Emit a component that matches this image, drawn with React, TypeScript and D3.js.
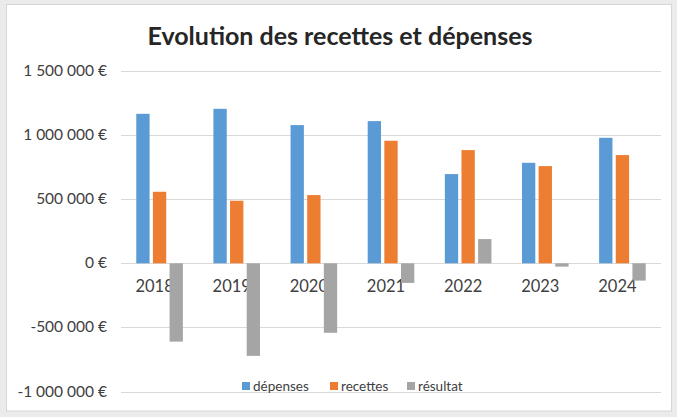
import * as d3 from "d3";
import React, { useEffect, useRef } from "react";

const years = ["2018", "2019", "2020", "2021", "2022", "2023", "2024"];
const depenses = [1166000, 1205000, 1078000, 1109000, 696000, 784000, 979000];
const recettes = [558000, 488000, 532000, 956000, 883000, 758000, 844000];
const resultat = [-611000, -722000, -542000, -153000, 189000, -26000, -135000];
const yTicks = [-1000000, -500000, 0, 500000, 1000000, 1500000];

const seriesNames = ["dépenses", "recettes", "résultat"];
const colors = ["#5b9bd5", "#ed7d31", "#a5a5a5"];

const fmt = (v: number) => {
  const s = Math.abs(v).toString().replace(/\B(?=(\d{3})+(?!\d))/g, " ");
  return (v < 0 ? "-" : "") + s + " €";
};

const App: React.FC = () => {
  const svgRef = useRef<SVGSVGElement | null>(null);

  useEffect(() => {
    const svg = d3.select(svgRef.current);
    svg.selectAll("*").remove();
    const width = 677;
    const height = 417;
    const font = "Lato, 'Liberation Sans', sans-serif";
    const series = [depenses, recettes, resultat];

    // fond
    svg.append("rect").attr("width", width).attr("height", height).attr("fill", "#ebebeb");
    svg
      .append("rect")
      .attr("x", 6.5)
      .attr("y", 4.5)
      .attr("width", 665)
      .attr("height", 406.5)
      .attr("fill", "#fff")
      .attr("stroke", "#d6d6d6");

    const x = d3.scaleBand().domain(years).range([121, 661]).padding(0);
    const xs = d3.scaleBand().domain(seriesNames).range([-23.3, 23.3]).paddingInner(0.2);
    const y = d3.scaleLinear().domain([-1000000, 1500000]).range([391.5, 71]);

    // titre
    svg
      .append("text")
      .attr("x", 340)
      .attr("y", 45)
      .attr("text-anchor", "middle")
      .attr("font-family", font)
      .attr("font-weight", "bold")
      .attr("font-size", 25)
      .attr("fill", "#262626")
      .text("Evolution des recettes et dépenses");

    // grille
    svg
      .append("g")
      .selectAll("line")
      .data(yTicks)
      .join("line")
      .attr("x1", 121)
      .attr("x2", 661)
      .attr("y1", (d) => Math.round(y(d)) + 0.5)
      .attr("y2", (d) => Math.round(y(d)) + 0.5)
      .attr("stroke", "#d9d9d9")
      .attr("stroke-width", 1.2);

    svg
      .append("g")
      .selectAll("text")
      .data(yTicks)
      .join("text")
      .attr("x", 107)
      .attr("y", (d) => y(d) + 5)
      .attr("text-anchor", "end")
      .attr("font-family", font)
      .attr("font-size", 15.5)
      .attr("fill", "#404040")
      .text((d) => fmt(d));

    // années
    svg
      .append("g")
      .selectAll("text")
      .data(years)
      .join("text")
      .attr("x", (d) => (x(d) as number) + x.bandwidth() / 2 - 5)
      .attr("y", 292)
      .attr("text-anchor", "middle")
      .attr("font-family", font)
      .attr("font-size", 16.5)
      .attr("fill", "#404040")
      .text((d) => d);

    // barres
    series.forEach((vals, si) => {
      svg
        .append("g")
        .selectAll("rect")
        .data(vals)
        .join("rect")
        .attr("x", (_, i) => (x(years[i]) as number) + x.bandwidth() / 2 + (xs(seriesNames[si]) as number))
        .attr("width", xs.bandwidth())
        .attr("y", (d) => y(Math.max(0, d)))
        .attr("height", (d) => Math.abs(y(d) - y(0)))
        .attr("fill", colors[si]);
    });

    // légende
    const legendX = [242, 330, 407];
    const lg = svg.append("g");
    seriesNames.forEach((name, i) => {
      lg.append("rect")
        .attr("x", legendX[i])
        .attr("y", 382)
        .attr("width", 8)
        .attr("height", 8)
        .attr("fill", colors[i]);
      lg.append("text")
        .attr("x", legendX[i] + 11)
        .attr("y", 391)
        .attr("font-family", font)
        .attr("font-size", 13.5)
        .attr("fill", "#404040")
        .text(name);
    });
  }, []);

  return (
    <svg
      ref={svgRef}
      width={677}
      height={417}
      style={{ position: "absolute", left: 0, top: 0, display: "block" }}
    ></svg>
  );
};

export default App;
